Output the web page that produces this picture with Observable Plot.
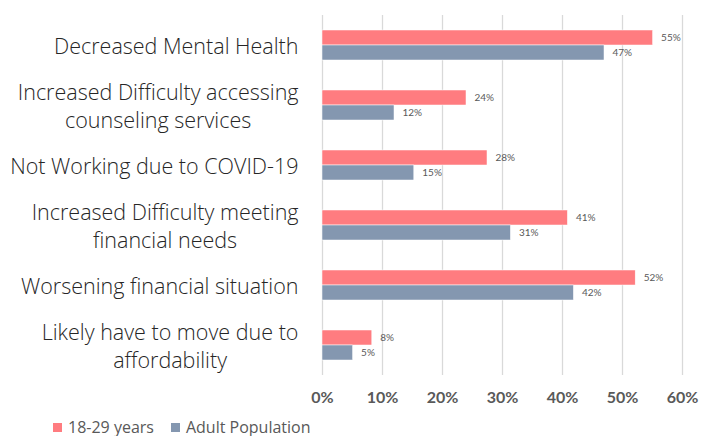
<!DOCTYPE html>
<html>
<head>
<meta charset="utf-8">
<script src="https://cdn.jsdelivr.net/npm/d3@7"></script>
<script src="https://cdn.jsdelivr.net/npm/@observablehq/plot@0.6"></script>
<style>
  html, body { margin: 0; padding: 0; background: #fff; }
  #chart { width: 701px; }
  .legend { display: flex; align-items: center; margin-left: 53px; margin-top: 12px; height: 18px; line-height: 18px; font-family: "Open Sans", sans-serif; font-size: 16px; color: #595959; }
  .legend .item { display: flex; align-items: center; margin-right: 17px; }
  .legend .sw { width: 9px; height: 9px; margin-right: 6px; }
</style>
</head>
<body>
<div id="chart"></div>
<script>
const categories = [
  "Decreased Mental Health",
  "Increased Difficulty accessing\ncounseling services",
  "Not Working due to COVID-19",
  "Increased Difficulty meeting\nfinancial needs",
  "Worsening financial situation",
  "Likely have to move due to\naffordability"
];
const seriesNames = ["18-29 years", "Adult Population"];
const young = [55.1, 24.0, 27.5, 40.9, 52.2, 8.3];
const adult = [47.0, 12.0, 15.3, 31.4, 41.9, 5.1];
const xTicks = [0, 10, 20, 30, 40, 50, 60];
const colors = ["#FF7C80", "#8497B0"];

const data = [];
categories.forEach((c, i) => {
  data.push({category: c, series: seriesNames[0], value: young[i]});
  data.push({category: c, series: seriesNames[1], value: adult[i]});
});

const chart = Plot.plot({
  width: 701,
  height: 406,
  marginLeft: 322,
  marginRight: 19,
  marginTop: 15,
  marginBottom: 31,
  style: {fontFamily: "Lato, sans-serif", background: "#fff"},
  x: {domain: [0, 60]},
  fy: {domain: categories, paddingInner: 0, paddingOuter: 0},
  y: {domain: seriesNames, paddingInner: 0, paddingOuter: 0.91, axis: null},
  color: {domain: seriesNames, range: colors},
  marks: [
    Plot.ruleX(xTicks, {x: d => d, stroke: "#d9d9d9", strokeWidth: 1.3}),
    Plot.barX(data, {x: "value", y: "series", fy: "category", fill: "series", stroke: "#fff", strokeWidth: 0.5}),
    Plot.text(data, {x: "value", y: "series", fy: "category", text: d => Math.round(d.value) + "%", dx: 8, textAnchor: "start", fontSize: 10, fill: "#595959"}),
    Plot.axisX({ticks: xTicks, tickFormat: d => d + "%", tickSize: 0, tickPadding: 16, fontSize: 16, fontWeight: "bold", color: "#595959", label: null}),
    Plot.axisFy({anchor: "left", tickSize: 0, tickPadding: 24, fontSize: 21.5, fontFamily: "Open Sans, sans-serif", fontWeight: 300, color: "#262626", label: null, lineHeight: 1.3})
  ]
});
document.getElementById("chart").appendChild(chart);

// center multi-line category labels (right-aligned block, centered lines)
chart.querySelectorAll("g[aria-label='fy-axis tick label'] text").forEach(t => {
  const spans = t.querySelectorAll("tspan");
  if (spans.length > 1) {
    const w = t.getBBox().width;
    t.setAttribute("text-anchor", "middle");
    spans.forEach(s => s.setAttribute("x", -w / 2));
  }
});

const legend = document.createElement("div");
legend.className = "legend";
seriesNames.forEach((s, i) => {
  const item = document.createElement("div");
  item.className = "item";
  item.innerHTML = `<span class="sw" style="background:${colors[i]}"></span><span>${s}</span>`;
  legend.appendChild(item);
});
document.getElementById("chart").appendChild(legend);
</script>
</body>
</html>
